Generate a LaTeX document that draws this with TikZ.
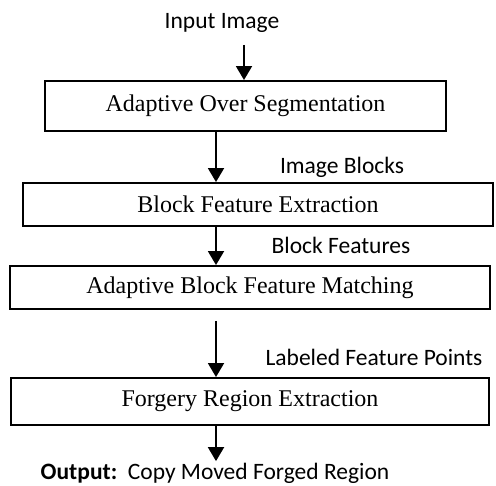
\documentclass[tikz,border=0pt]{standalone}
\usepackage{fontspec}
\setmainfont{Liberation Serif}
\newfontfamily\calibfont{Carlito}
\usepackage{tikz}
\usetikzlibrary{arrows.meta, positioning}

\begin{document}
\begin{tikzpicture}[
  x=1pt, y=-1pt,
  stepbox/.style={
    draw=black, fill=white, line width=1.9pt,
    inner sep=0pt, align=center,
    font=\fontsize{24}{28}\selectfont
  },
  lbl/.style={
    font=\calibfont\fontsize{23.5}{27}\selectfont, inner sep=1pt
  },
  flowarrow/.style={-{Triangle[width=16pt,length=14pt]}, line width=1.9pt, black}
]
\useasboundingbox (0,0) rectangle (496,486);

% ── Input ───────────────────────────────────────────────────
\node[lbl] (inp) at (222,23) {Input Image};
\coordinate (a1) at (244,45);
\coordinate (ax) at (216,0);

% ── Processing steps ────────────────────────────────────────
\node[stepbox, minimum width=401pt, minimum height=50pt] (seg) at (245.5,106) {Adaptive Over Segmentation};
\node[stepbox, minimum width=470pt, minimum height=43pt] (bfe) at (258,204.5) {Block Feature Extraction};
\node[stepbox, minimum width=480pt, minimum height=43pt] (bfm) at (250,287.5) {Adaptive Block Feature Matching};
\node[stepbox, minimum width=478pt, minimum height=47pt] (fre) at (250,401.5) {Forgery Region Extraction};

% ── Data labels ─────────────────────────────────────────────
\node[lbl] (blk) at (342,167) {Image Blocks};
\node[lbl] (feat) at (341,245) {Block Features};
\node[lbl] (pts) at (374,357) {Labeled Feature Points};
\node[lbl, inner sep=0pt] (out) at (215,473.5) {\textbf{Output:}\ \ Copy Moved Forged Region};

% ── Flow arrows ─────────────────────────────────────────────
\draw[flowarrow] (a1) -- (a1 |- seg.north);
\draw[flowarrow] (ax |- seg.south) -- (ax |- bfe.north);
\draw[flowarrow] (ax |- bfe.south) -- (ax |- bfm.north);
\draw[flowarrow] ([yshift=-11pt]ax |- bfm.south) -- (ax |- fre.north);
\draw[flowarrow] (ax |- fre.south) -- ([yshift=2pt]ax |- out.north);

\end{tikzpicture}
\end{document}
